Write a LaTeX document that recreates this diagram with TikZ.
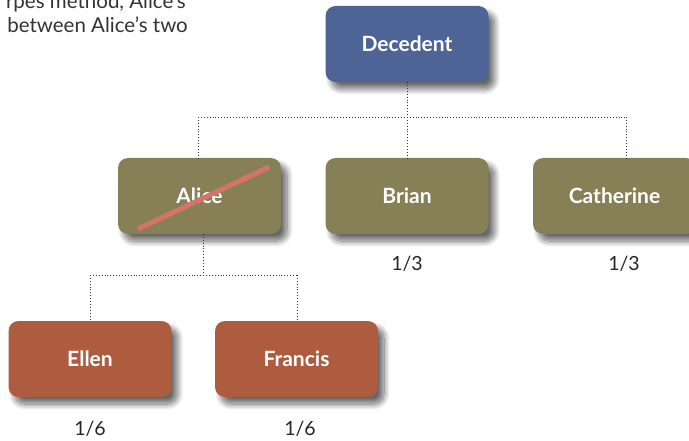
\documentclass[tikz,border=0pt]{standalone}
\usepackage{fontspec}
\setmainfont{Lato}
\usetikzlibrary{shadows.blur}
\definecolor{decblue}{HTML}{4E6497}
\definecolor{olive}{HTML}{878057}
\definecolor{rust}{HTML}{AD5C40}
\definecolor{strike}{HTML}{D4736A}
\definecolor{conn}{HTML}{333333}
\tikzset{
  person/.style={rounded corners=10pt, minimum width=163pt, minimum height=76pt,
    inner sep=0pt, text=white, font=\fontsize{21}{24}\selectfont\bfseries,
    blur shadow={shadow xshift=6pt, shadow yshift=-7pt, shadow blur steps=12,
      shadow opacity=60, shadow blur radius=6pt}},
  conn/.style={draw=conn, line width=0.9pt, dotted},
  share/.style={font=\fontsize{19.5}{22}\selectfont, text=black!85, inner sep=0pt},
  bgtext/.style={font=\fontsize{20.5}{24}\selectfont, text=black!80, inner sep=0pt, anchor=base east}
}
\begin{document}
\begin{tikzpicture}[x=1pt,y=-1pt]
\useasboundingbox (0,0) rectangle (689,441);
% clipped paragraph text from the page
\node[bgtext] (para1) at (186,9) {rpes method, Alice’s};
\node[bgtext] (para2) at (188,33) {between Alice’s two};
% nodes
\node[person, fill=decblue] (dec) at (407,44) {Decedent};
\node[person, fill=olive] (alice) at (199.5,196) {Alice};
\node[person, fill=olive] (brian) at (407,196) {Brian};
\node[person, fill=olive] (cath) at (614.5,196) {Catherine};
\node[person, fill=rust] (ellen) at (90,359) {Ellen};
\node[person, fill=rust] (francis) at (296.5,359) {Francis};
% strike through Alice
\coordinate (s1) at (138,229);
\coordinate (s2) at (269,167);
\draw[strike, line width=5pt] (s1) -- (s2);
% shares
\node[share] (sb) at (407,264) {1/3};
\node[share] (sc) at (624,264) {1/3};
\node[share] (se) at (90,429) {1/6};
\node[share] (sf) at (300,429) {1/6};
% connectors
\coordinate (j1) at (407,117);
\coordinate (ja) at (198,117);
\coordinate (jc) at (626,117);
\coordinate (ct) at (626,158);
\coordinate (at) at (198,158);
\draw[conn] (dec.south) -- (j1);
\draw[conn] (ja) -- (jc);
\draw[conn] (ja) -- (at);
\draw[conn] (j1) -- (brian.north);
\draw[conn] (jc) -- (ct);
\coordinate (ab) at (203,234);
\coordinate (j2) at (203,275);
\coordinate (je) at (90,275);
\coordinate (jf) at (297,275);
\coordinate (ft) at (297,321);
\draw[conn] (ab) -- (j2);
\draw[conn] (je) -- (jf);
\draw[conn] (je) -- (ellen.north);
\draw[conn] (jf) -- (ft);
\end{tikzpicture}
\end{document}
